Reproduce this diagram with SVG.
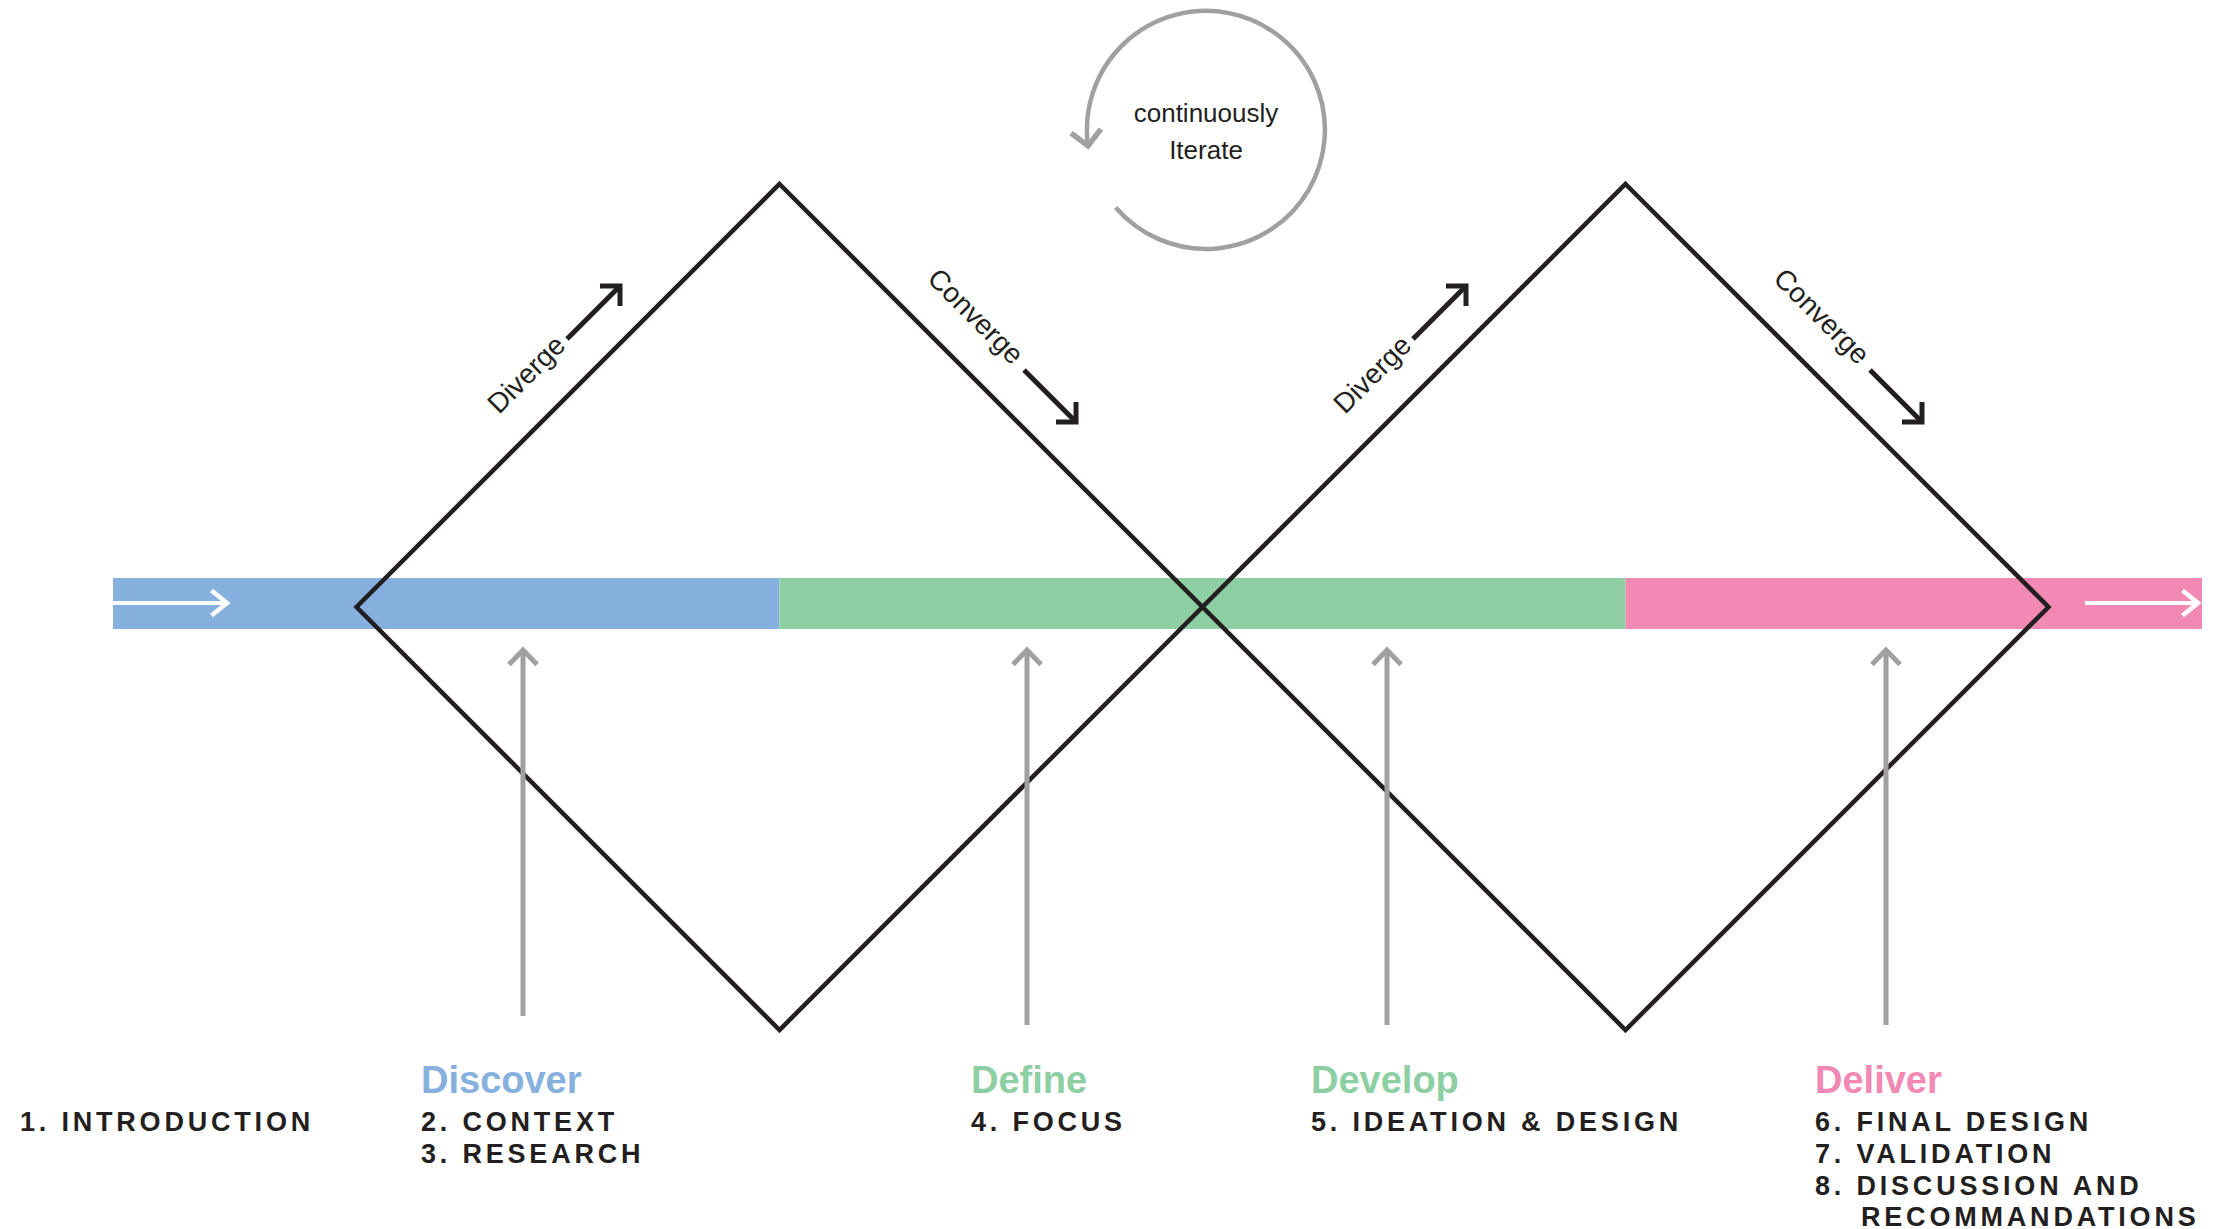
<svg xmlns="http://www.w3.org/2000/svg" width="2222" height="1229" viewBox="0 0 2222 1229">
  <style>
    .edge { fill: none; stroke: #231f20; stroke-width: 4.5; stroke-linejoin: miter; }
    .lbl { font-family: "Liberation Sans", Arial, sans-serif; font-size: 28px; fill: #231f20; }
    .iter { font-family: "Liberation Sans", Arial, sans-serif; font-size: 26px; fill: #231f20; text-anchor: middle; }
    .dir { fill: none; stroke: #231f20; stroke-width: 5; marker-end: url(#headBlack); }
    .up { fill: none; stroke: #a0a0a0; stroke-width: 5; marker-end: url(#headGray); }
    .flow { fill: none; stroke: #ffffff; stroke-width: 4; marker-end: url(#headWhite); }
    .loop { fill: none; stroke: #a0a0a0; stroke-width: 4.5; marker-end: url(#headLoop); }
    .head { font-family: "Liberation Sans", Arial, sans-serif; font-size: 38px; font-weight: bold; }
    .item { font-family: "Liberation Sans", Arial, sans-serif; font-size: 27px; font-weight: bold; fill: #231f20; letter-spacing: 3.8px; }
  </style>
  <defs>
    <marker id="headBlack" markerUnits="userSpaceOnUse" viewBox="-30 -30 40 60" markerWidth="40" markerHeight="60" refX="0" refY="0" orient="auto" overflow="visible">
      <path d="M-14.14,-14.14 L0,0 L-14.14,14.14" fill="none" stroke="#231f20" stroke-width="5"/>
    </marker>
    <marker id="headGray" markerUnits="userSpaceOnUse" viewBox="-30 -30 40 60" markerWidth="40" markerHeight="60" refX="0" refY="0" orient="auto" overflow="visible">
      <path d="M-14.5,-14 L0,0 L-14.5,14" fill="none" stroke="#a0a0a0" stroke-width="5"/>
    </marker>
    <marker id="headWhite" markerUnits="userSpaceOnUse" viewBox="-30 -30 40 60" markerWidth="40" markerHeight="60" refX="0" refY="0" orient="auto" overflow="visible">
      <path d="M-15.5,-12.5 L0,0 L-15.5,12.5" fill="none" stroke="#ffffff" stroke-width="4.5"/>
    </marker>
    <marker id="headLoop" markerUnits="userSpaceOnUse" viewBox="-30 -30 40 60" markerWidth="40" markerHeight="60" refX="0" refY="0" orient="auto" overflow="visible">
      <path d="M-15,-15 L0,0 L-15,15" fill="none" stroke="#a0a0a0" stroke-width="5.5"/>
    </marker>
  </defs>

  <!-- phase band -->
  <g id="band">
    <rect x="113" y="578" width="666.5" height="51" fill="#86b0de"/>
    <rect x="779.5" y="578" width="846" height="51" fill="#8dcfa3"/>
    <rect x="1625.5" y="578" width="576.5" height="51" fill="#f288b4"/>
  </g>

  <!-- diamonds -->
  <g id="diamond-1">
    <polygon class="edge" points="779.5,184 1202.5,607 779.5,1030 356.5,607"/>
  </g>
  <g id="diamond-2">
    <polygon class="edge" points="1625.5,184 2048.5,607 1625.5,1030 1202.5,607"/>
  </g>

  <!-- connectors -->
  <g id="connectors">
    <line class="flow" x1="113" y1="603" x2="227" y2="603"/>
    <line class="flow" x1="2085" y1="603" x2="2198" y2="603"/>
    <line class="dir" x1="567" y1="339" x2="620" y2="286"/>
    <line class="dir" x1="1024" y1="370" x2="1076" y2="422"/>
    <line class="dir" x1="1413" y1="339" x2="1466" y2="286"/>
    <line class="dir" x1="1870" y1="370" x2="1922" y2="422"/>
    <line class="up" x1="523" y1="1016" x2="523" y2="650"/>
    <line class="up" x1="1027" y1="1025" x2="1027" y2="650"/>
    <line class="up" x1="1387" y1="1025" x2="1387" y2="650"/>
    <line class="up" x1="1886" y1="1025" x2="1886" y2="650"/>
    <path class="loop" d="M1115.7,207.5 A119,119 0 1 0 1088,146"/>
  </g>

  <!-- edge labels -->
  <g id="labels-diamond-1">
    <text class="lbl" text-anchor="middle" transform="translate(533,381) rotate(-45)">Diverge</text>
    <text class="lbl" text-anchor="middle" transform="translate(969,323) rotate(45)">Converge</text>
  </g>
  <g id="labels-diamond-2">
    <text class="lbl" text-anchor="middle" transform="translate(1379,381) rotate(-45)">Diverge</text>
    <text class="lbl" text-anchor="middle" transform="translate(1815,323) rotate(45)">Converge</text>
  </g>

  <g id="iterate">
    <text class="iter" x="1206" y="122">continuously</text>
    <text class="iter" x="1206" y="159">Iterate</text>
  </g>

  <!-- phase texts -->
  <g id="introduction">
    <text class="item" x="20" y="1131">1. INTRODUCTION</text>
  </g>
  <g id="discover">
    <text class="head" x="421" y="1093" fill="#86b0de">Discover</text>
    <text class="item" x="421" y="1131">2. CONTEXT</text>
    <text class="item" x="421" y="1163">3. RESEARCH</text>
  </g>
  <g id="define">
    <text class="head" x="971" y="1093" fill="#8dcfa3">Define</text>
    <text class="item" x="971" y="1131">4. FOCUS</text>
  </g>
  <g id="develop">
    <text class="head" x="1311" y="1093" fill="#8dcfa3">Develop</text>
    <text class="item" x="1311" y="1131">5. IDEATION &amp; DESIGN</text>
  </g>
  <g id="deliver">
    <text class="head" x="1815" y="1093" fill="#f288b4">Deliver</text>
    <text class="item" x="1815" y="1131">6. FINAL DESIGN</text>
    <text class="item" x="1815" y="1163">7. VALIDATION</text>
    <text class="item" x="1815" y="1195">8. DISCUSSION AND</text>
    <text class="item" x="1861" y="1226">RECOMMANDATIONS</text>
  </g>
</svg>
